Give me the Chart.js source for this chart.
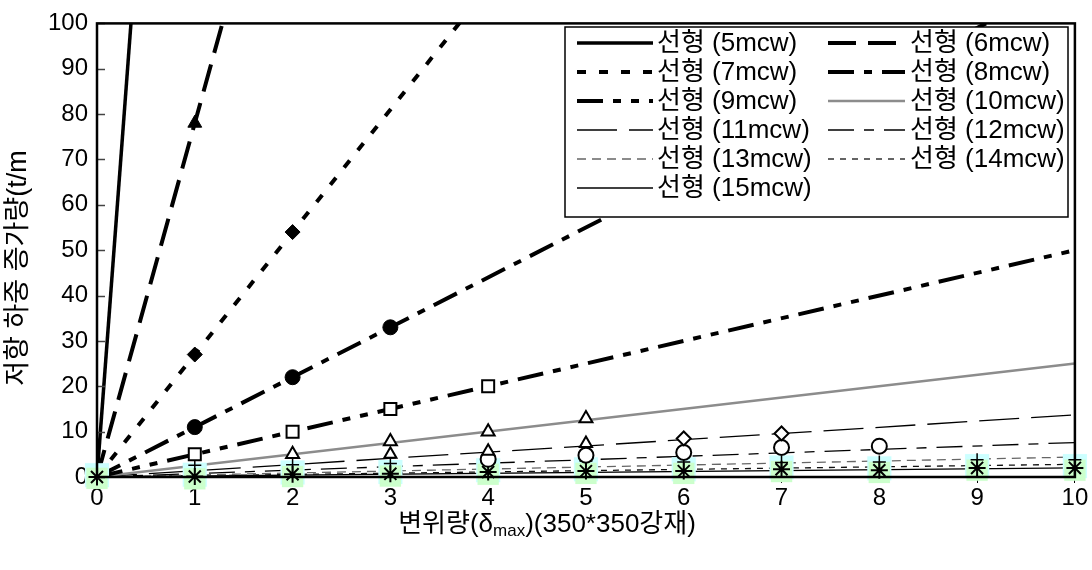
<!DOCTYPE html>
<html><head><meta charset="utf-8">
<script src="https://cdn.jsdelivr.net/npm/chart.js@4"></script>
<style>html,body{margin:0;padding:0;background:#fff}canvas{display:block}</style>
</head><body>
<canvas id="c" width="1092" height="570"></canvas>
<script>
// ---------------- data ----------------
const xValues = [0, 1, 2, 3, 4, 5, 6, 7, 8, 9, 10];
const yTicks = [0, 10, 20, 30, 40, 50, 60, 70, 80, 90, 100];
const seriesLabels = ['선형 (5mcw)', '선형 (6mcw)', '선형 (7mcw)', '선형 (8mcw)', '선형 (9mcw)', '선형 (10mcw)',
  '선형 (11mcw)', '선형 (12mcw)', '선형 (13mcw)', '선형 (14mcw)', '선형 (15mcw)'];
// linear trend lines: value at x = 0 and at x = 10
const trendX = [0, 10];
const trendStart = [0, 0, 0, 0, 0, 0, 0, 0, 0, 0, 0];
const trendEnd = [2880, 780, 270, 110, 50, 25, 13.7, 7.6, 4.4, 2.8, 2.0];

// measured points (aligned with xValues, null = no visible marker)
const marker6 = [null, 78, null, null, null, null, null, null, null, null, null];
const marker7 = [null, 27, 54, null, null, null, null, null, null, null, null];
const marker8 = [null, 11, 22, 33, null, null, null, null, null, null, null];
const marker9 = [null, 5, 10, 15, 20, null, null, null, null, null, null];
const marker10 = [null, null, 5, 7.8, 10, 12.9, null, null, null, null, null];
const marker11 = [null, null, null, 5, 5.7, 7.4, 8.5, 9.6, null, null, null];
const marker11Shape = ['', '', '', 'triangle', 'triangle', 'triangle', 'rectRot', 'rectRot', '', '', ''];
const marker12 = [null, null, null, null, 3.9, 4.8, 5.4, 6.5, 6.8, null, null];
const marker13 = [0.4, 0.5, 1.0, 1.1, 1.5, 1.7, 1.7, 2.1, 1.9, 2.4, 2.4];
const marker14 = [-0.3, -0.4, 0.1, 0.2, 0.6, 0.8, 0.8, 1.2, 1.0, 1.5, 1.5];
const markerPlus = [null, 2.6, 2.7, 3.0, 3.5, 3.5, 3.3, 3.2, 3.3, 3.8, 3.8];
const markerStar = [0, 0.1, 0.6, 0.7, 1.1, 1.3, 1.3, 1.7, 1.5, 2.0, 2.0];

const xTitleMain = '변위량(δ';
const xTitleSub = 'max';
const xTitleTail = ')(350*350강재)';
const yTitle = '저항 하중 증가량(t/m';

// ---------------- styles ----------------
const FF = "'Liberation Sans', 'Noto Sans CJK KR', sans-serif";
Chart.defaults.font.family = FF;
Chart.defaults.font.size = 24;
Chart.defaults.color = '#000';

const lineStyles = [
  {color: '#000', width: 3.5, dash: []},
  {color: '#000', width: 4, dash: [28, 12]},
  {color: '#000', width: 4, dash: [9, 13]},
  {color: '#000', width: 4, dash: [26, 10, 8, 10]},
  {color: '#000', width: 4, dash: [26, 10, 8, 10, 8, 10]},
  {color: '#8c8c8c', width: 2.5, dash: []},
  {color: '#000', width: 1.3, dash: [40, 12]},
  {color: '#000', width: 1.3, dash: [26, 10, 10, 10]},
  {color: '#666', width: 1.3, dash: [9, 6]},
  {color: '#111', width: 1.3, dash: [6, 6]},
  {color: '#000', width: 1.3, dash: []}
];

function pts(arr, shapes) {
  return xValues.map((x, i) => ({x: x, y: arr[i], s: shapes ? shapes[i] : null}))
    .filter(p => p.y !== null);
}

const trendSets = seriesLabels.map((label, i) => ({
  label: label,
  data: [{x: trendX[0], y: trendStart[i]}, {x: trendX[1], y: trendEnd[i]}],
  showLine: true, pointRadius: 0, pointHoverRadius: 0,
  borderColor: lineStyles[i].color, borderWidth: lineStyles[i].width, borderDash: lineStyles[i].dash,
  backgroundColor: 'transparent', fill: false, order: 100, isTrend: true
}));

function mk(label, data, style, radius, fillC, borderC, bw, order) {
  return {label: label, data: data, showLine: false, pointStyle: style, pointRadius: radius, pointHoverRadius: radius,
    pointBackgroundColor: fillC, pointBorderColor: borderC, pointBorderWidth: bw, order: order, clip: false};
}

const markerSets = [
  mk('6mcw', pts(marker6), 'triangle', 8, '#000', '#000', 1, 10),
  mk('7mcw', pts(marker7), 'rectRot', 7.5, '#000', '#000', 1, 10),
  mk('8mcw', pts(marker8), 'circle', 7.5, '#000', '#000', 1, 10),
  mk('9mcw', pts(marker9), 'rect', 8.5, '#fff', '#000', 2, 10),
  mk('10mcw', pts(marker10), 'triangle', 7.5, '#fff', '#000', 2, 10),
  mk('11mcw', pts(marker11, marker11Shape), ctx => (ctx.raw && ctx.raw.s) || 'triangle', 7, '#fff', '#000', 2, 10),
  mk('12mcw', pts(marker12), 'circle', 7.5, '#fff', '#000', 2, 11),
  mk('13mcw', pts(marker13), 'rect', 17, '#ccffff', '#ccffff', 0.1, 20),
  mk('14mcw', pts(marker14), 'rect', 15, '#ccffcc', '#ccffcc', 0.1, 19),
  mk('15mcw+', pts(markerPlus), 'cross', 6.5, '#000', '#000', 1.5, 18),
  mk('15mcw', pts(markerStar), 'star', 8.5, '#000', '#000', 2, 17)
];

// ---------------- decoration plugin ----------------
const decor = {
  id: 'decor',
  afterDatasetsDraw(chart) {
    const ctx = chart.ctx, a = chart.chartArea, ys = chart.scales.y;
    ctx.save();
    // inside y tick marks
    ctx.strokeStyle = '#444'; ctx.lineWidth = 1.5;
    yTicks.forEach(v => {
      const py = Math.round(ys.getPixelForValue(v)) + 0.5;
      ctx.beginPath(); ctx.moveTo(a.left, py); ctx.lineTo(a.left + 8, py); ctx.stroke();
    });
    // plot frame
    ctx.strokeStyle = '#000'; ctx.lineWidth = 2.5;
    ctx.strokeRect(a.left, a.top, a.right - a.left, a.bottom - a.top);
    // legend
    const L = {left: 565, top: 27, right: 1068, bottom: 217};
    ctx.fillStyle = '#fff';
    ctx.fillRect(L.left, L.top, L.right - L.left, L.bottom - L.top);
    ctx.strokeStyle = '#000'; ctx.lineWidth = 1.5;
    ctx.strokeRect(L.left, L.top, L.right - L.left, L.bottom - L.top);
    chart.data.datasets.filter(d => d.isTrend).forEach((ds, i) => {
      const col = i % 2, row = Math.floor(i / 2);
      const cy = 43 + row * 29;
      const x0 = col ? 828 : 577, x1 = col ? 905 : 653, tx = col ? 910 : 657;
      ctx.save();
      ctx.setLineDash(ds.borderDash); ctx.lineWidth = ds.borderWidth; ctx.strokeStyle = ds.borderColor;
      ctx.beginPath(); ctx.moveTo(x0, cy); ctx.lineTo(x1, cy); ctx.stroke();
      ctx.restore();
      ctx.fillStyle = '#000'; ctx.font = '26px ' + FF; ctx.textBaseline = 'middle'; ctx.textAlign = 'left';
      ctx.fillText(ds.label, tx, cy + 1);
    });
    ctx.restore();
  },
  afterDraw(chart) {
    const ctx = chart.ctx;
    ctx.save();
    ctx.fillStyle = '#000';
    // x title with subscript
    const fMain = '26px ' + FF, fSub = '17px ' + FF;
    ctx.font = fMain; const w1 = ctx.measureText(xTitleMain).width; const w3 = ctx.measureText(xTitleTail).width;
    ctx.font = fSub; const w2 = ctx.measureText(xTitleSub).width;
    let x = 547 - (w1 + w2 + w3) / 2; const base = 532;
    ctx.textBaseline = 'alphabetic'; ctx.textAlign = 'left';
    ctx.font = fMain; ctx.fillText(xTitleMain, x, base); x += w1;
    ctx.font = fSub; ctx.fillText(xTitleSub, x, base + 4); x += w2;
    ctx.font = fMain; ctx.fillText(xTitleTail, x, base);
    // y title
    ctx.translate(19, 268); ctx.rotate(-Math.PI / 2);
    ctx.textAlign = 'center'; ctx.textBaseline = 'middle'; ctx.font = '27px ' + FF;
    ctx.fillText(yTitle, 0, 0);
    ctx.restore();
  }
};

new Chart(document.getElementById('c'), {
  type: 'scatter',
  data: {datasets: trendSets.concat(markerSets)},
  options: {
    responsive: false, animation: false,
    layout: {padding: {left: 0, top: 16, right: 15, bottom: 0}},
    plugins: {legend: {display: false}, tooltip: {enabled: false}},
    scales: {
      x: {
        type: 'linear', min: 0, max: 10,
        afterBuildTicks: s => { s.ticks = xValues.map(v => ({value: v})); },
        afterFit: s => { s.height = 93; },
        grid: {display: true, drawOnChartArea: false, drawTicks: true, tickLength: 6, color: '#000', lineWidth: 1},
        border: {display: false},
        ticks: {padding: 1, font: {size: 24}, color: '#000', maxRotation: 0}
      },
      y: {
        type: 'linear', min: 0, max: 100,
        afterBuildTicks: s => { s.ticks = yTicks.map(v => ({value: v})); },
        afterFit: s => { s.width = 97; },
        grid: {display: false, drawTicks: false},
        border: {display: false},
        ticks: {padding: 9, font: {size: 24}, color: '#000'}
      }
    }
  },
  plugins: [decor]
});
</script>
</body></html>
